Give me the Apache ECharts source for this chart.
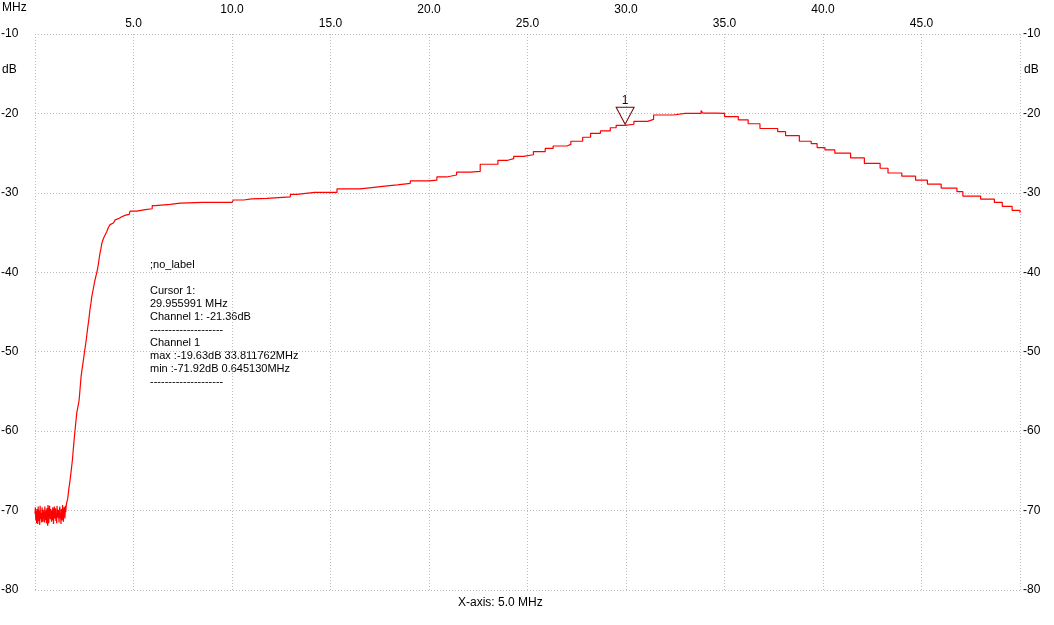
<!DOCTYPE html>
<html><head><meta charset="utf-8">
<script src="https://cdn.jsdelivr.net/npm/echarts@6/dist/echarts.min.js"></script>
<style>html,body{margin:0;padding:0;background:#fff}#c{width:1054px;height:625px}</style>
</head><body><div id="c"></div>
<script>
// Frequency (MHz) and level (dB) of Channel 1
const freqMHz = [
  0.00,0.02,0.04,0.06,0.08,0.10,0.12,0.14,0.16,0.18,
  0.20,0.22,0.24,0.26,0.28,0.30,0.32,0.34,0.36,0.38,
  0.40,0.42,0.44,0.46,0.48,0.50,0.52,0.54,0.56,0.58,
  0.60,0.62,0.645,0.66,0.68,0.70,0.72,0.74,0.76,0.78,
  0.80,0.82,0.84,0.86,0.88,0.90,0.92,0.94,0.96,0.98,
  1.00,1.02,1.04,1.06,1.08,1.10,1.12,1.14,1.16,1.18,
  1.20,1.22,1.24,1.26,1.28,1.30,1.32,1.34,1.36,1.38,
  1.40,1.42,1.44,1.46,1.48,1.50,1.52,1.54,1.56,1.58,
  1.60,
  1.66,1.72,1.78,1.84,1.90,1.95,2.00,2.06,2.12,2.18,2.24,2.29,2.34,2.40,2.46,2.52,2.58,2.63,2.68,2.74,
  2.79,2.84,2.88,2.95,3.01,3.07,3.13,3.18,3.22,3.26,3.30,3.35,3.39,3.45,3.52,3.58,3.64,3.72,3.81,3.90,
  3.98,4.07,4.15,4.28,4.40,4.60,4.78,4.83,5.17,5.60,5.95,6.10,6.86,7.37,8.50,10.00,10.07,10.60,11.00,11.77,
  12.96,13.30,14.20,15.33,16.50,17.20,18.00,18.40,19.05,20.00,20.40,20.90,21.40,22.10,22.60,23.50,24.00,24.30,24.80,25.30,
  25.90,26.30,27.00,27.20,27.80,28.20,28.70,29.20,29.50,29.956,30.40,31.10,31.40,32.40,33.00,33.812,33.90,34.60,35.00,35.70,
  36.20,36.80,37.70,38.10,38.80,39.40,39.70,40.10,40.60,41.40,42.10,42.90,43.30,44.00,44.70,45.30,46.00,46.80,47.10,48.00,
  48.70,49.10,49.60,50.00
];
const levelDb = [
  -70.4,-69.6,-71.2,-70.1,-71.6,-69.8,-70.9,-71.7,-69.5,-70.7,
  -71.3,-70.0,-71.8,-69.4,-70.6,-71.1,-70.3,-71.5,-69.6,-70.8,
  -71.4,-69.9,-71.0,-70.2,-71.5,-69.5,-70.5,-71.2,-70.0,-71.6,
  -69.7,-70.9,-71.92,-69.3,-70.6,-71.6,-70.1,-69.4,-70.4,-71.1,
  -69.8,-70.7,-71.4,-70.0,-71.2,-69.6,-70.5,-71.7,-70.2,-69.5,
  -71.0,-70.8,-69.7,-71.3,-70.3,-71.6,-69.4,-70.9,-71.1,-69.9,
  -70.6,-71.5,-70.1,-69.5,-71.0,-70.4,-71.7,-69.8,-70.7,-71.2,
  -69.3,-70.5,-71.4,-70.0,-69.6,-70.3,-71.0,-69.4,-70.2,-69.5,
  -69.1,
  -68.5,-67.2,-66.2,-64.9,-63.6,-62.1,-60.7,-59.2,-57.7,-56.9,-56.1,-54.6,-53.1,-52.0,-51.0,-49.9,-48.9,-47.9,-46.9,-45.8,
  -44.7,-43.9,-43.1,-42.2,-41.4,-40.7,-40.1,-39.5,-38.9,-38.2,-37.6,-37.0,-36.4,-35.9,-35.5,-35.2,-34.9,-34.4,-34.0,-33.8,
  -33.6,-33.4,-33.2,-33.0,-32.8,-32.7,-32.6,-32.3,-32.1,-32.0,-31.6,-31.45,-31.3,-31.2,-31.2,-31.15,-30.9,-30.75,-30.7,-30.5,
  -30.2,-29.95,-29.95,-29.5,-29.3,-29.1,-29.0,-28.8,-28.5,-28.4,-28.0,-27.75,-27.4,-27.3,-26.4,-25.9,-25.7,-25.4,-25.2,-24.8,
  -24.4,-24.1,-23.9,-23.5,-23.0,-22.5,-22.2,-21.8,-21.5,-21.36,-21.0,-20.75,-20.2,-20.0,-20.0,-19.63,-19.95,-20.0,-20.4,-20.8,
  -21.3,-21.9,-22.3,-22.8,-23.5,-23.8,-24.3,-24.6,-25.0,-25.6,-26.3,-26.9,-27.5,-27.9,-28.4,-28.9,-29.4,-29.85,-30.4,-30.8,
  -31.2,-31.7,-32.2,-32.5
];
const cursorFreq = 29.955991;
const cursorLevel = -21.36;
const infoLines = [
  ';no_label', '', 'Cursor 1:', '29.955991 MHz', 'Channel 1: -21.36dB', '--------------------',
  'Channel 1', 'max :-19.63dB 33.811762MHz', 'min :-71.92dB 0.645130MHz', '--------------------'
];
const xTitle = 'X-axis: 5.0 MHz';

const FONT = '"Liberation Sans", Arial, sans-serif';
const gridColor = '#bdbdbd';
const dotted = { color: gridColor, width: 1, type: [1, 2] };

const chart = echarts.init(document.getElementById('c'), null, { renderer: 'canvas' });
chart.setOption({
  animation: false,
  backgroundColor: '#ffffff',
  grid: { left: 35, right: 34, top: 34, bottom: 35, containLabel: false, outerBoundsMode: 'none' },
  xAxis: [
    {
      type: 'value', position: 'top', min: 0, max: 50, interval: 5,
      axisLine: { show: false }, axisTick: { show: false },
      splitLine: { show: true, lineStyle: dotted },
      axisLabel: {
        margin: 3, color: '#000', fontFamily: FONT, fontSize: 12, lineHeight: 14,
        formatter: v => (v <= 0 || v >= 50) ? '' : (v % 10 === 0 ? v.toFixed(1) + '\n ' : v.toFixed(1))
      }
    }
  ],
  yAxis: [
    {
      type: 'value', position: 'left', min: -80, max: -10, interval: 10,
      axisLine: { show: false }, axisTick: { show: false },
      splitLine: { show: true, lineStyle: dotted },
      axisLabel: { margin: 34, align: 'left', color: '#000', fontFamily: FONT, fontSize: 12 }
    },
    {
      type: 'value', position: 'right', min: -80, max: -10, interval: 10,
      axisLine: { show: false }, axisTick: { show: false },
      splitLine: { show: false },
      axisLabel: { margin: 3, align: 'left', color: '#000', fontFamily: FONT, fontSize: 12 }
    }
  ],
  series: [{
    type: 'line', xAxisIndex: 0, yAxisIndex: 0,
    data: freqMHz.map((f, i) => [f, levelDb[i]]),
    step: 'end', showSymbol: false, symbol: 'none',
    lineStyle: { color: '#ff0000', width: 1.2 },
    markPoint: {
      symbol: 'triangle', symbolRotate: 180, symbolSize: [18, 17], symbolOffset: [0, '-50%'],
      itemStyle: { color: 'rgba(255,255,255,0)', borderColor: '#7a0000', borderWidth: 1 },
      label: { show: true, formatter: '1', position: 'top', distance: 0, color: '#300000', fontFamily: FONT, fontSize: 12 },
      data: [{ coord: [cursorFreq, cursorLevel] }]
    }
  }],
  graphic: [
    { type: 'text', left: 2, top: 2, style: { text: 'MHz', fill: '#000', font: '12px ' + FONT } },
    { type: 'text', left: 2, top: 64, style: { text: 'dB', fill: '#000', font: '12px ' + FONT } },
    { type: 'text', left: 1024, top: 64, style: { text: 'dB', fill: '#000', font: '12px ' + FONT } },
    { type: 'text', left: 458, top: 597, style: { text: xTitle, fill: '#000', font: '12px ' + FONT } },
    { type: 'text', left: 150, top: 259, style: { text: infoLines.join('\n'), fill: '#000', font: '11px ' + FONT, lineHeight: 12.9 } }
  ]
});
</script>
</body></html>
